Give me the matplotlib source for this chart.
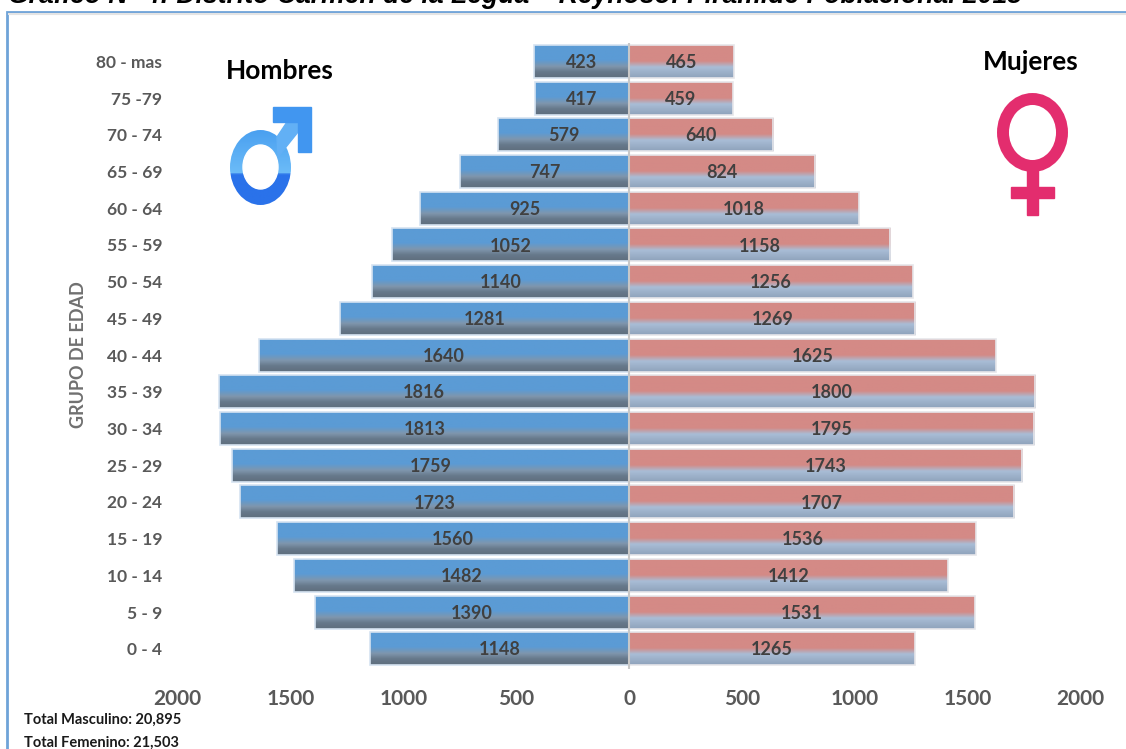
"""Piramide poblacional, Distrito Carmen de la Legua - Reynoso."""

import numpy as np
import matplotlib
matplotlib.use("Agg")
import matplotlib.pyplot as plt
from matplotlib.colors import LinearSegmentedColormap
from matplotlib.patches import Ellipse, Polygon, Rectangle

W, H = 1126, 749

age_groups = ["80 - mas", "75 -79", "70 - 74", "65 - 69", "60 - 64", "55 - 59",
              "50 - 54", "45 - 49", "40 - 44", "35 - 39", "30 - 34", "25 - 29",
              "20 - 24", "15 - 19", "10 - 14", "5 - 9", "0 - 4"]
hombres = [423, 417, 579, 747, 925, 1052, 1140, 1281, 1640, 1816, 1813, 1759,
           1723, 1560, 1482, 1390, 1148]
mujeres = [465, 459, 640, 824, 1018, 1158, 1256, 1269, 1625, 1800, 1795, 1743,
           1707, 1536, 1412, 1531, 1265]
x_ticks = [-2000, -1500, -1000, -500, 0, 500, 1000, 1500, 2000]

plt.rcParams["font.family"] = ["Lato", "DejaVu Sans"]

blue_cmap = LinearSegmentedColormap.from_list(
    "blue", [(0, "#5b9bd5"), (0.46, "#5b9bd5"), (0.66, "#7f96ad"), (0.82, "#67798b"), (1, "#5f6e7e")])
red_cmap = LinearSegmentedColormap.from_list(
    "red", [(0, "#d48a86"), (0.5, "#d48a86"), (0.68, "#a9bdd6"), (1, "#8fa3bb")])
grad = np.linspace(0, 1, 64).reshape(-1, 1)

fig = plt.figure(figsize=(W / 100, H / 100), dpi=100, facecolor="white")

# overlay in pixel coordinates for frame, title and symbols
bg = fig.add_axes([0, 0, 1, 1], zorder=0)
bg.axis("off")
bg.plot([7, 7, W], [H, 12, 12], color="#6fa3d8", lw=2, solid_joinstyle="miter")
bg.plot([9, W], [14, 14], color="#e4e4e4", lw=1.5)
bg.text(8, 3, "Gráfico N° 4: Distrito Carmen de la Legua – Reynoso: Pirámide Poblacional 2015",
        family=["Liberation Sans"], fontsize=19.1, fontweight="bold", style="italic",
        color="black", ha="left", va="baseline")

ax = fig.add_axes([177.5 / W, 1 - 669 / H, 903 / W, 626 / H], zorder=1)
ax.patch.set_alpha(0)
y = np.arange(len(age_groups))


def draw_side(values, sign, cmap, edge):
    bars = ax.barh(y, [sign * v for v in values], height=0.9, color="none",
                   edgecolor=edge, linewidth=1.2, zorder=3)
    for pos, val, bar in zip(y, values, bars):
        x0, x1 = sorted((0, sign * val))
        im = ax.imshow(grad, cmap=cmap, aspect="auto", zorder=2,
                       extent=(x0, x1, pos + 0.45, pos - 0.45))
        im.set_clip_path(bar)
        ax.text(sign * val / 2, pos + 0.03, str(val), ha="center", va="center",
                fontsize=13, fontweight="bold", color="#404040", zorder=4)


draw_side(hombres, -1, blue_cmap, "#d5e3f1")
draw_side(mujeres, 1, red_cmap, "#e6e6ea")
ax.axvline(0, color="#c8c8c8", lw=1.5, zorder=5)

ax.set_xlim(-2000, 2000)
ax.set_ylim(len(age_groups) - 0.45, -0.5)
ax.set_xticks(x_ticks)
ax.set_xticklabels([str(abs(t)) for t in x_ticks], fontsize=15, fontweight="bold",
                   color="#595959")
ax.set_yticks(y)
ax.set_yticklabels(age_groups, fontsize=12.5, fontweight="bold", color="#595959")
ax.tick_params(axis="x", length=0, pad=14.5)
ax.tick_params(axis="y", length=0, pad=11)
for side in ax.spines.values():
    side.set_visible(False)
bg.text(78, 355, "GRUPO DE EDAD", rotation=90, fontsize=13, fontweight="bold",
        color="#707070", ha="center", va="center")

# labels and gender symbols
bg.text(280, 71, "Hombres", fontsize=19, fontweight="bold", color="black",
        ha="center", va="center")
bg.text(1031, 62, "Mujeres", fontsize=19, fontweight="bold", color="black",
        ha="center", va="center")
bg.text(24, 720, "Total Masculino: 20,895", fontsize=10.5, fontweight="bold",
        color="#1a1a1a", ha="left", va="center")
bg.text(24, 743, "Total Femenino: 21,503", fontsize=10.5, fontweight="bold",
        color="#1a1a1a", ha="left", va="center")

# male symbol
ring_grad = LinearSegmentedColormap.from_list(
    "ring", [(0, "#4aa0f0"), (0.58, "#6cbcf8"), (0.59, "#2a72ea"), (1, "#2a72ea")])
ring_im = bg.imshow(grad, cmap=ring_grad, aspect="auto", extent=(230, 291, 205, 130), zorder=3)
ring_im.set_clip_path(Ellipse((260.5, 167.5), 61, 75, transform=bg.transData))
bg.add_patch(Polygon([(277, 137), (287, 122), (298, 122), (298, 132), (278, 157)],
                     color="#62b0f5", zorder=3))
bg.add_patch(Polygon([(273, 107), (311, 107), (311, 152), (298, 152), (298, 122), (273, 122)],
                     color="#4196f0", zorder=3))
bg.add_patch(Ellipse((260.5, 167), 35, 44, color="white", zorder=4))

# female symbol
bg.add_patch(Ellipse((1032.5, 132.5), 59, 67, fill=False, ec="#e32d6e", lw=8.6))
bg.add_patch(Rectangle((1027, 168), 11, 47, color="#e32d6e"))
bg.add_patch(Rectangle((1011, 187), 43, 11, color="#e32d6e"))

bg.set_xlim(0, W)
bg.set_ylim(H, 0)

fig.savefig("out.png", dpi=100)
plt.close(fig)
